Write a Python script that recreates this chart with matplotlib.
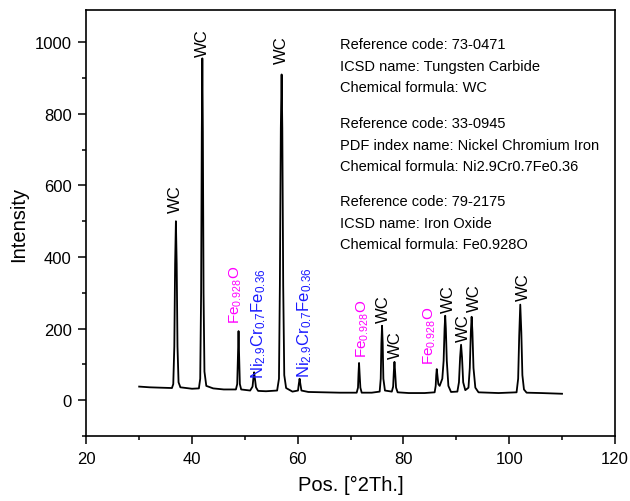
import matplotlib
matplotlib.use("Agg")
import matplotlib.pyplot as plt
from matplotlib.ticker import MultipleLocator

plt.rcParams['font.family'] = ['Liberation Sans', 'DejaVu Sans']
plt.rcParams['mathtext.fontset'] = 'custom'
plt.rcParams['mathtext.rm'] = 'Liberation Sans'
plt.rcParams['mathtext.it'] = 'Liberation Sans'
plt.rcParams['mathtext.default'] = 'regular'

# Diffraction pattern vertices (2theta, intensity)
two_theta = [30.0, 32.0, 34.0, 36.2, 36.45, 36.65, 36.8, 36.95, 37.1, 37.25, 37.45, 37.8,
             40.0, 41.3, 41.55, 41.72, 41.85, 41.95, 42.05, 42.18, 42.35, 42.7, 44.0, 46.0,
             48.3, 48.55, 48.7, 48.8, 48.9, 49.05, 49.3, 51.0, 51.45, 51.6, 51.75, 51.9, 52.1,
             52.5, 54.0, 56.1, 56.45, 56.62, 56.8, 56.95, 57.08, 57.25, 57.45, 57.8, 59.0,
             60.05, 60.2, 60.35, 60.5, 60.7, 62.0, 65.0, 68.0, 71.15, 71.4, 71.5, 71.6,
             71.7, 71.85, 72.1, 74.0, 75.5, 75.7, 75.83, 75.95, 76.07, 76.2, 76.5, 77.8,
             78.05, 78.18, 78.3, 78.42, 78.6, 78.9, 81.0, 84.0, 85.9, 86.1, 86.2, 86.3,
             86.42, 86.6, 86.85, 87.35, 87.6, 87.78, 87.9, 88.02, 88.2, 88.5, 89.0, 90.2,
             90.5, 90.72, 90.9, 91.08, 91.3, 91.7, 92.3, 92.55, 92.75, 92.9, 93.05, 93.25,
             93.6, 94.2, 98.0, 101.4, 101.7, 101.9, 102.1, 102.3, 102.5, 102.8, 103.3,
             106.0, 110.0]
intensity = [38, 36, 35, 34, 45, 150, 380, 500, 380, 150, 50, 36,
             32, 33, 60, 300, 750, 955, 750, 300, 80, 40, 33, 30,
             30, 45, 130, 193, 130, 45, 30, 27, 38, 60, 78, 60, 36,
             26, 25, 27, 60, 320, 760, 910, 760, 320, 70, 34, 24,
             27, 45, 60, 45, 27, 23, 22, 21, 21, 35, 75, 104,
             75, 35, 21, 21, 24, 60, 160, 208, 160, 60, 27, 24,
             38, 80, 107, 80, 35, 22, 20, 20, 22, 40, 70, 87,
             70, 45, 40, 60, 110, 200, 236, 200, 110, 40, 23, 24,
             50, 120, 155, 120, 50, 28, 35, 90, 190, 233, 190, 90,
             35, 22, 20, 22, 60, 180, 267, 190, 70, 30, 21,
             20, 18]

# Peak labels: position, peak height, phase
label_pos = [36.95, 41.95, 56.95, 48.8, 51.75, 60.35, 71.6, 75.95, 78.3,
             86.3, 87.9, 90.9, 92.9, 102.1]
label_height = [500, 955, 910, 193, 78, 60, 104, 208, 107, 87, 236, 155, 233, 267]
label_phase = ['WC', 'WC', 'WC', 'Fe', 'Ni', 'Ni', 'Fe', 'WC', 'WC',
               'Fe', 'WC', 'WC', 'WC', 'WC']

phase_text = {'WC': 'WC',
              'Fe': r'Fe$_{0.928}$O',
              'Ni': r'Ni$_{2.9}$Cr$_{0.7}$Fe$_{0.36}$'}
phase_color = {'WC': 'black', 'Fe': '#ff00ff', 'Ni': '#1a1aff'}
phase_size = {'WC': 12, 'Fe': 11, 'Ni': 12}

ref_lines = [
    ["Reference code: 73-0471", "ICSD name: Tungsten Carbide", "Chemical formula: WC"],
    ["Reference code: 33-0945", "PDF index name: Nickel Chromium Iron",
     "Chemical formula: Ni2.9Cr0.7Fe0.36"],
    ["Reference code: 79-2175", "ICSD name: Iron Oxide", "Chemical formula: Fe0.928O"],
]

fig = plt.figure(figsize=(6.3, 5.02), dpi=100)
ax = fig.add_axes([0.137, 0.1295, 0.839, 0.8485])
ax.plot(two_theta, intensity, color='black', lw=1.3)

ax.set_xlim(20, 120)
ax.set_ylim(-100, 1090)
ax.xaxis.set_major_locator(MultipleLocator(20))
ax.xaxis.set_minor_locator(MultipleLocator(10))
ax.yaxis.set_major_locator(MultipleLocator(200))
ax.yaxis.set_minor_locator(MultipleLocator(100))
ax.tick_params(which='both', direction='out', labelsize=12, width=1.1, pad=5)
ax.tick_params(which='major', length=5.5)
ax.tick_params(which='minor', length=3.2)
for s in ax.spines.values():
    s.set_linewidth(1.2)

ax.set_xlabel('Pos. [°2Th.]', fontsize=14.5, labelpad=7)
ax.set_ylabel('Intensity', fontsize=14.5, labelpad=5)

# label placement (points): horizontal shift, gap above peak
label_dx = [0, 0, 0, -2, 3, 4, 3, 1, 1, -5, 2, 2, 2, 2]
label_dy = [7, 2, 8, 6, -4, 1, 4, 3, 3, 4, 3, 3, 4, 3]
for x, h, ph, dx, dy in zip(label_pos, label_height, label_phase, label_dx, label_dy):
    ax.annotate(phase_text[ph], xy=(x, h), xytext=(dx, dy),
                textcoords='offset points', rotation=90, ha='center', va='bottom',
                fontsize=phase_size[ph], color=phase_color[ph])

block_y = [995, 774, 556]
for by, lines in zip(block_y, ref_lines):
    for i, t in enumerate(lines):
        ax.text(68.0, by - i * 60, t, fontsize=10.5, va='center', ha='left')

fig.savefig('out.png', dpi=100)
